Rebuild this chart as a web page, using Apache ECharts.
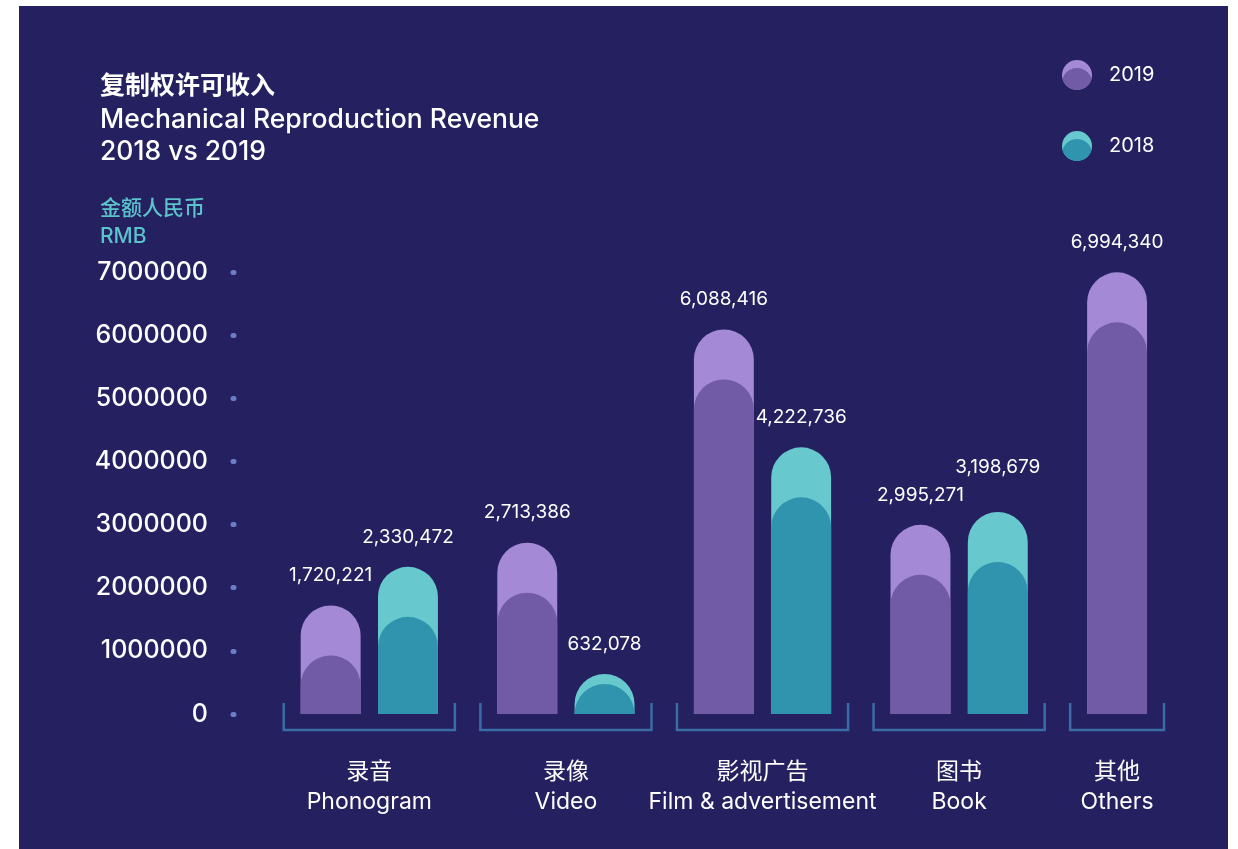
<!DOCTYPE html>
<html>
<head>
<meta charset="utf-8">
<script src="https://cdn.jsdelivr.net/npm/echarts@6/dist/echarts.min.js"></script>
<style>
  html, body { margin: 0; padding: 0; background: #fff; }
  #chart { width: 1238px; height: 849px; }
</style>
</head>
<body>
<div id="chart"></div>
<script>
// Data
const categoriesZh = ['录音', '录像', '影视广告', '图书', '其他'];
const categoriesEn = ['Phonogram', 'Video', 'Film & advertisement', 'Book', 'Others'];
const revenue2019 = [1720221, 2713386, 6088416, 2995271, 6994340];
const revenue2018 = [2330472, 632078, 4222736, 3198679, null];
const seriesNames = ['2019', '2018'];

// Styling
const FONT = "Inter, 'Noto Sans CJK SC', sans-serif";
const BG = '#25205f';
const COLORS = [
    { light: '#a48ad6', dark: '#715aa6' },   // 2019
    { light: '#67c9ce', dark: '#3094ae' }    // 2018
];
const BRACKET = '#3b6ca5';

// Packed group layout, in units of one bar width
const AXIS_GAP = 0.83, BAR_GAP = 0.29, GROUP_PAD = 0.283, GROUP_GAP = 0.425;
const groups = [];
let cursor = 0;
categoriesZh.forEach((_, i) => {
    const vals = [revenue2019[i], revenue2018[i]];
    const n = vals.filter(v => v != null).length;
    const w = n + (n - 1) * BAR_GAP + 2 * GROUP_PAD;
    const bars = {};
    let k = 0;
    vals.forEach((v, s) => {
        if (v != null) {
            bars[s] = cursor + GROUP_PAD + k * (1 + BAR_GAP) + 0.5;
            k++;
        }
    });
    groups.push({ start: cursor, end: cursor + w, bars });
    cursor += w + GROUP_GAP;
});
const xTotal = cursor - GROUP_GAP;

function barData(values, s) {
    const out = [];
    values.forEach((v, i) => { if (v != null) out.push([groups[i].bars[s], v, i]); });
    return out;
}

function renderBar(s) {
    return function (params, api) {
        const x = api.value(0), v = api.value(1), i = api.value(2);
        const top = api.coord([x, v]);
        const base = api.coord([x, 0])[1];
        const w = api.size([1, 0])[0];
        const h = base - top[1];
        const r = w / 2;
        const off = h > 80 ? 50 : h * 0.25;
        const dh = h - off;
        // keep the 2018 label clear of the 2019 label in the same group
        let labelY = top[1] - 30;
        if (s === 1 && revenue2019[i] != null) {
            const otherY = api.coord([x, revenue2019[i]])[1] - 30;
            if (Math.abs(labelY - otherY) < 28) labelY = Math.min(labelY, otherY - 28);
        }
        return {
            type: 'group',
            children: [
                { type: 'rect', shape: { x: top[0] - w / 2, y: top[1], width: w, height: h, r: [r, r, 0, 0] },
                  style: { fill: COLORS[s].light } },
                { type: 'rect', shape: { x: top[0] - w / 2, y: top[1] + off, width: w, height: dh, r: [Math.min(r, dh), Math.min(r, dh), 0, 0] },
                  style: { fill: COLORS[s].dark } },
                { type: 'text', style: { text: v.toLocaleString('en-US'), x: top[0], y: labelY,
                  align: 'center', verticalAlign: 'middle', fill: '#fff', fontSize: 19, fontFamily: FONT } }
            ]
        };
    };
}

function renderGroup(params, api) {
    const l = api.coord([api.value(0), 0]);
    const r = api.coord([api.value(1), 0]);
    const base = l[1];
    const mid = (l[0] + r[0]) / 2;
    const i = params.dataIndex;
    return {
        type: 'group',
        children: [
            { type: 'polyline', shape: { points: [[l[0], base - 11], [l[0], base + 16], [r[0], base + 16], [r[0], base - 11]] },
              style: { stroke: BRACKET, lineWidth: 2.5, fill: null } },
            { type: 'text', style: { text: categoriesZh[i], x: mid, y: base + 58, align: 'center', verticalAlign: 'middle',
              fill: '#fff', fontSize: 23, fontFamily: FONT } },
            { type: 'text', style: { text: categoriesEn[i], x: mid, y: base + 88, align: 'center', verticalAlign: 'middle',
              fill: '#fff', fontSize: 23, fontFamily: FONT } }
        ]
    };
}

// lower part of a legend dot: overlap of the dot and the same circle moved down by d
function lensPoints(r, d) {
    const pts = [];
    const a = Math.asin(d / (2 * r));
    for (let t = Math.PI + a; t <= 2 * Math.PI - a + 1e-9; t += (Math.PI - 2 * a) / 40) {
        pts.push([r * Math.cos(t), d + r * Math.sin(t)]);
    }
    for (let t = a; t <= Math.PI - a + 1e-9; t += (Math.PI - 2 * a) / 20) {
        pts.push([r * Math.cos(t), r * Math.sin(t)]);
    }
    return pts;
}

function legendItem(s, cy) {
    return {
        type: 'group', x: 1077, y: cy,
        children: [
            { type: 'circle', shape: { cx: 0, cy: 0, r: 15 }, style: { fill: COLORS[s].light } },
            { type: 'polygon', shape: { points: lensPoints(15, 8) }, style: { fill: COLORS[s].dark } },
            { type: 'text', x: 32, y: 0, style: { text: seriesNames[s], fill: '#fff', fontSize: 20, fontFamily: FONT,
              verticalAlign: 'middle' } }
        ]
    };
}

const chart = echarts.init(document.getElementById('chart'));
chart.setOption({
    backgroundColor: '#fff',
    animation: false,
    graphic: [
        { type: 'rect', z: -100, silent: true, shape: { x: 19, y: 6, width: 1209, height: 843 }, style: { fill: BG } },
        legendItem(0, 75),
        legendItem(1, 146)
    ],
    title: [
        { text: '复制权许可收入', left: 100, top: 74, padding: 0,
          textStyle: { color: '#fff', fontSize: 25, fontWeight: 'bold', fontFamily: FONT } },
        { text: 'Mechanical Reproduction Revenue\n2018 vs 2019', left: 100, top: 104, padding: 0,
          textStyle: { color: '#fff', fontSize: 26.5, fontWeight: 500, lineHeight: 32, fontFamily: FONT } },
        { text: '金额人民币\nRMB', left: 100, top: 195, padding: 0,
          textStyle: { color: '#5bc3cc', fontSize: 21, fontWeight: 500, lineHeight: 28, fontFamily: FONT } }
    ],
    grid: { left: 234, right: 74, top: 272, bottom: 135 },
    xAxis: { type: 'value', min: -AXIS_GAP, max: xTotal, show: false },
    yAxis: {
        type: 'value', min: 0, max: 7000000, interval: 1000000,
        axisLine: { show: false, onZero: false },
        splitLine: { show: false },
        axisTick: { show: true, length: 1, lineStyle: { color: '#6b7ec6', width: 5, cap: 'round' } },
        axisLabel: { color: '#fff', fontSize: 25, fontWeight: 500, fontFamily: FONT, margin: 26, formatter: v => String(v) }
    },
    series: [
        { type: 'custom', name: 'groups', renderItem: renderGroup, encode: { x: [0, 1], y: 2 },
          data: groups.map(g => [g.start, g.end, 0]) },
        { type: 'custom', name: seriesNames[0], renderItem: renderBar(0), encode: { x: 0, y: 1 },
          data: barData(revenue2019, 0) },
        { type: 'custom', name: seriesNames[1], renderItem: renderBar(1), encode: { x: 0, y: 1 },
          data: barData(revenue2018, 1) }
    ]
});
</script>
</body>
</html>
